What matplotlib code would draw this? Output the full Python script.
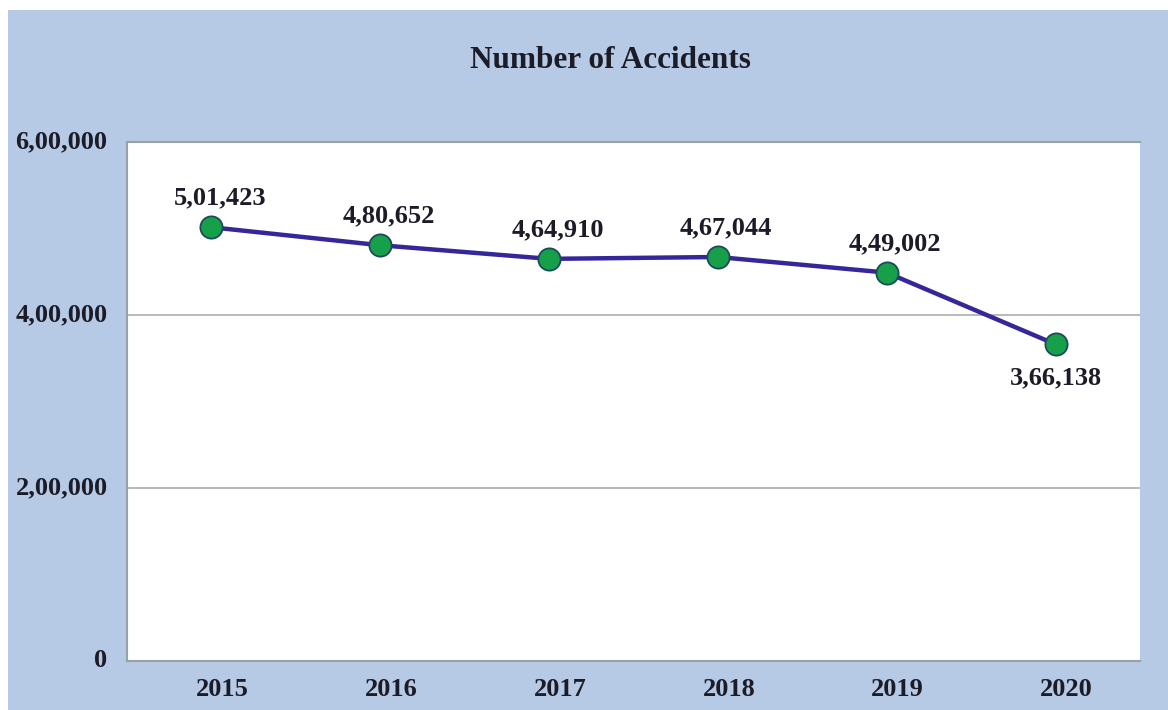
import numpy as np
import matplotlib.pyplot as plt
from matplotlib.patches import Rectangle
from matplotlib.transforms import ScaledTranslation

years = ['2015', '2016', '2017', '2018', '2019', '2020']
accidents = [501423, 480652, 464910, 467044, 449002, 366138]
point_labels = ['5,01,423', '4,80,652', '4,64,910', '4,67,044', '4,49,002', '3,66,138']
y_ticks = [0, 200000, 400000, 600000]
y_tick_labels = ['0', '2,00,000', '4,00,000', '6,00,000']

plt.rcParams['font.family'] = ['Liberation Serif', 'DejaVu Serif']
plt.rcParams['font.weight'] = 'bold'

BG = '#b7cae5'
TXT = '#1c1c28'
FS = 19

fig = plt.figure(figsize=(11.68, 7.10), dpi=100, facecolor='white')
fig.patches.append(Rectangle((8 / 1168, 0), 1, 700 / 710, transform=fig.transFigure,
                             facecolor=BG, edgecolor='none', zorder=-10))

ax = fig.add_axes([127 / 1168, 49 / 710, 1013 / 1168, 519 / 710])
ax.set_facecolor('white')

x = np.arange(len(years))
ax.plot(x, accidents, color='#35279a', lw=3.2, zorder=3)
ax.plot(x, accidents, 'o', ms=16, markerfacecolor='#17a04a',
        markeredgecolor='#1d4a5a', markeredgewidth=1.3, zorder=4)

for i, (v, lab) in enumerate(zip(accidents, point_labels)):
    if i == len(years) - 1:
        off = (0, -24)
    else:
        off = (6, 21)
    ax.annotate(lab, (i, v), xytext=off, textcoords='offset points',
                ha='center', va='center', fontsize=FS, color=TXT)

ax.set_xlim(-0.5, 5.5)
ax.set_ylim(0, 600000)
ax.set_xticks(x)
ax.set_xticklabels(years)
ax.set_yticks(y_ticks)
ax.set_yticklabels(y_tick_labels)
ax.tick_params(axis='both', length=0, labelsize=FS, labelcolor=TXT)
ax.tick_params(axis='y', pad=14)
ax.tick_params(axis='x', pad=12)

# year labels sit a little right of the points, values a little above the lines
for t in ax.get_xticklabels():
    t.set_transform(t.get_transform() + ScaledTranslation(11 / 100, 0, fig.dpi_scale_trans))
for t in ax.get_yticklabels():
    t.set_transform(t.get_transform() + ScaledTranslation(0, 3 / 100, fig.dpi_scale_trans))

ax.grid(axis='y', color='#b3b3b3', lw=1.3)
ax.set_axisbelow(True)
for side in ['top', 'left', 'bottom']:
    ax.spines[side].set_color('#9aa0a8')
    ax.spines[side].set_linewidth(1.5)
ax.spines['right'].set_visible(False)

fig.text(610 / 1168, 1 - 60 / 710, 'Number of Accidents', ha='center', va='center',
         fontsize=22.5, color=TXT)

fig.savefig('out.png', dpi=100, facecolor=fig.get_facecolor())
